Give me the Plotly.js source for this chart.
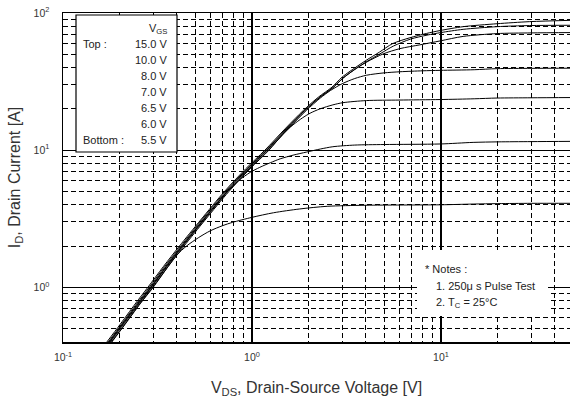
<!DOCTYPE html>
<html>
<head>
<meta charset="utf-8">
<script src="https://cdn.plot.ly/plotly-3.0.1.min.js"></script>
<style>
  html, body { margin: 0; padding: 0; background: #fff; }
  #chart { width: 570px; height: 401px; }
</style>
</head>
<body>
<div id="chart"></div>
<script>
// Output characteristics: drain current vs drain-source voltage, one curve per gate voltage
const vgsLabels = ["15.0 V", "10.0 V", "8.0 V", "7.0 V", "6.5 V", "6.0 V", "5.5 V"];

const vds15 = [0.156, 0.195, 0.243, 0.281, 0.34, 0.413, 0.535, 0.715, 0.925, 1.17, 1.51, 1.87, 2.25, 2.65, 3.0, 3.55, 4.02, 4.73, 5.55, 6.85, 8.4, 9.9, 13.1, 19.8, 29.5, 50];
const id15  = [0.34, 0.51, 0.77, 1.0, 1.42, 2.0, 3.1, 5.0, 7.3, 10.0, 14.5, 19.5, 24.4, 28.8, 34.1, 40.3, 45.2, 51.9, 59.8, 66.0, 71.0, 74.5, 79.5, 83.5, 86.5, 88.5];

const vds10 = [0.159, 0.198, 0.247, 0.286, 0.345, 0.42, 0.542, 0.725, 0.94, 1.19, 1.53, 1.9, 2.28, 2.68, 3.03, 3.58, 4.05, 4.76, 5.6, 6.9, 8.45, 10, 13.1, 19.8, 29.5, 50];
const id10  = [0.34, 0.51, 0.77, 1.0, 1.42, 2.0, 3.1, 5.0, 7.3, 10.0, 14.5, 19.5, 24.2, 28.5, 33.6, 39.6, 44.3, 50.4, 57.4, 64.5, 69.0, 72.0, 76.0, 79.5, 81.0, 81.4];

const vds8 = [0.161, 0.2, 0.25, 0.29, 0.35, 0.425, 0.55, 0.735, 0.95, 1.2, 1.55, 1.91, 2.29, 2.68, 3.03, 3.5, 4.06, 4.94, 6.07, 7.74, 9.9, 13.1, 19.8, 30, 50];
const id8  = [0.34, 0.51, 0.77, 1.0, 1.42, 2.0, 3.1, 5.0, 7.3, 10.0, 14.5, 19.5, 24.4, 28.6, 33.4, 38.8, 44.0, 50.3, 55.0, 58.6, 62.6, 67.5, 70.8, 71.6, 72.0];

const vds7 = [0.163, 0.203, 0.254, 0.294, 0.355, 0.431, 0.558, 0.745, 0.965, 1.22, 1.57, 1.94, 2.3, 2.6, 3.0, 3.5, 4.04, 5.0, 6.07, 8.0, 9.9, 15, 19.8, 30, 50];
const id7  = [0.34, 0.51, 0.77, 1.0, 1.42, 2.0, 3.1, 5.0, 7.3, 10.0, 14.5, 19.5, 24.0, 27.2, 30.5, 33.3, 35.2, 36.6, 37.3, 37.9, 38.2, 38.6, 39.3, 39.5, 39.6];

const vds65 = [0.165, 0.206, 0.257, 0.298, 0.36, 0.437, 0.565, 0.755, 0.975, 1.23, 1.45, 1.65, 1.85, 2.03, 2.29, 2.68, 3.03, 4.04, 6.0, 9.9, 15, 19.8, 30, 50];
const id65  = [0.34, 0.51, 0.77, 1.0, 1.42, 2.0, 3.1, 5.0, 7.3, 10.0, 13.0, 15.3, 17.2, 18.6, 20.0, 21.4, 22.2, 23.0, 23.2, 23.4, 23.7, 24.0, 24.1, 24.2];

const vds6 = [0.162, 0.201, 0.252, 0.292, 0.352, 0.428, 0.553, 0.74, 0.85, 0.98, 1.1, 1.25, 1.41, 1.65, 1.95, 2.3, 2.68, 3.5, 5.0, 9.9, 14.8, 20, 30, 50];
const id6  = [0.34, 0.51, 0.77, 1.0, 1.42, 2.0, 3.1, 5.0, 6.0, 6.9, 7.5, 8.1, 8.65, 9.2, 9.7, 10.2, 10.6, 10.9, 11.0, 11.1, 11.4, 11.5, 11.55, 11.6];

const vds55 = [0.166, 0.207, 0.258, 0.3, 0.36, 0.4, 0.45, 0.52, 0.6, 0.7, 0.79, 1.0, 1.3, 1.79, 2.5, 4.0, 9.9, 14.8, 20, 30, 50];
const id55  = [0.34, 0.51, 0.77, 1.0, 1.42, 1.72, 2.0, 2.3, 2.58, 2.82, 2.98, 3.24, 3.5, 3.73, 3.9, 3.97, 4.0, 4.05, 4.08, 4.1, 4.1];

// Axis ticks: labelled decades, unlabelled dashed gridlines in between
const xDecades = [0.1, 1, 10];
const xDecadeText = ["10<sup>-1</sup>", "10<sup>0</sup>", "10<sup>1</sup>"];
const xMinor = [0.2, 0.3, 0.4, 0.5, 0.6, 0.7, 0.8, 0.9, 2, 3, 4, 5, 6, 7, 8, 9, 20, 30, 40];
const yDecades = [1, 10, 100];
const yDecadeText = ["10<sup>0</sup>", "10<sup>1</sup>", "10<sup>2</sup>"];
const yMinor = [0.4, 0.5, 0.6, 0.7, 0.8, 0.9, 2, 3, 4, 5, 6, 7, 8, 9, 20, 30, 40, 50, 60, 70, 80, 90];

const curves = [
  [vds15, id15], [vds10, id10], [vds8, id8], [vds7, id7],
  [vds65, id65], [vds6, id6], [vds55, id55]
];

const traces = curves.map((c, i) => ({
  type: "scatter",
  mode: "lines",
  x: c[0],
  y: c[1],
  name: vgsLabels[i],
  line: { color: "#000", width: 1, shape: "spline", smoothing: 0.8 },
  hoverinfo: "skip"
}));

const textFont = { family: "Liberation Sans, Arial, sans-serif", size: 11, color: "#222" };

// Plot area in pixels, used to place the in-plot boxes
const L = 63, R = 570, T = 13, B = 342;
const px = v => (v - L) / (R - L);
const py = v => (B - v) / (B - T);

const annotations = [];
const rowY = [44, 60, 76, 92, 108, 124, 140];
annotations.push({ xref: "paper", yref: "paper", x: px(169), y: py(29), xanchor: "right", yanchor: "middle",
  text: "V<sub>GS</sub>", showarrow: false, font: textFont });
vgsLabels.forEach((t, i) => {
  annotations.push({ xref: "paper", yref: "paper", x: px(169), y: py(rowY[i]), xanchor: "right", yanchor: "middle",
    text: t, showarrow: false, font: textFont });
});
annotations.push({ xref: "paper", yref: "paper", x: px(81), y: py(rowY[0]), xanchor: "left", yanchor: "middle",
  text: "Top :", showarrow: false, font: textFont });
annotations.push({ xref: "paper", yref: "paper", x: px(81), y: py(rowY[6]), xanchor: "left", yanchor: "middle",
  text: "Bottom :", showarrow: false, font: textFont });

const notes = ["* Notes :", "1. 250\u03bc s Pulse Test", "2. T<sub>C</sub> = 25\u00b0C"];
const notesX = [423, 434, 434];
const notesY = [269, 286, 303];
notes.forEach((t, i) => {
  annotations.push({ xref: "paper", yref: "paper", x: px(notesX[i]), y: py(notesY[i]), xanchor: "left", yanchor: "middle",
    text: t, showarrow: false, font: textFont });
});

const shapes = [
  { type: "rect", xref: "paper", yref: "paper", x0: px(76), x1: px(177), y0: py(152), y1: py(15),
    fillcolor: "#fff", line: { color: "#000", width: 1.2 }, layer: "above" },
  { type: "rect", xref: "paper", yref: "paper", x0: px(417), x1: px(548), y0: py(316), y1: py(250),
    fillcolor: "#fff", line: { width: 0 }, layer: "above" }
];

const gridDash = "5px,3px";

const layout = {
  width: 570,
  height: 401,
  margin: { l: L, r: 570 - R, t: T, b: 401 - B, pad: 0 },
  paper_bgcolor: "#fff",
  plot_bgcolor: "#fff",
  showlegend: false,
  font: { family: "Liberation Sans, Arial, sans-serif", color: "#222" },
  xaxis: {
    type: "log",
    range: [-1, 1.683],
    tickmode: "array",
    tickvals: xDecades,
    ticktext: xDecadeText,
    ticks: "",
    tickfont: { size: 10.5, color: "#333" },
    ticklabelstandoff: 5,
    showgrid: true,
    gridcolor: "#000",
    gridwidth: 1.3,
    minor: { tickmode: "array", tickvals: xMinor, showgrid: true, gridcolor: "#000", gridwidth: 1, griddash: gridDash, ticks: "" },
    showline: true,
    linecolor: "#000",
    linewidth: 1.5,
    mirror: true,
    zeroline: false,
    automargin: false,
    title: { text: "V<sub>DS</sub>, Drain-Source Voltage [V]", font: { size: 16, color: "#333" }, standoff: 19 }
  },
  yaxis: {
    type: "log",
    range: [Math.log10(0.4), 2],
    tickmode: "array",
    tickvals: yDecades,
    ticktext: yDecadeText,
    ticks: "",
    tickfont: { size: 10.5, color: "#333" },
    ticklabelstandoff: 10,
    showgrid: true,
    gridcolor: "#000",
    gridwidth: 1.3,
    minor: { tickmode: "array", tickvals: yMinor, showgrid: true, gridcolor: "#000", gridwidth: 1, griddash: gridDash, ticks: "" },
    showline: true,
    linecolor: "#000",
    linewidth: 1.5,
    mirror: false,
    zeroline: false,
    automargin: false,
    title: { text: "I<sub>D</sub>, Drain Current [A]", font: { size: 16, color: "#333" }, standoff: 9 }
  },
  annotations: annotations,
  shapes: shapes
};

Plotly.newPlot("chart", traces, layout, { staticPlot: true, displayModeBar: false });
</script>
</body>
</html>
